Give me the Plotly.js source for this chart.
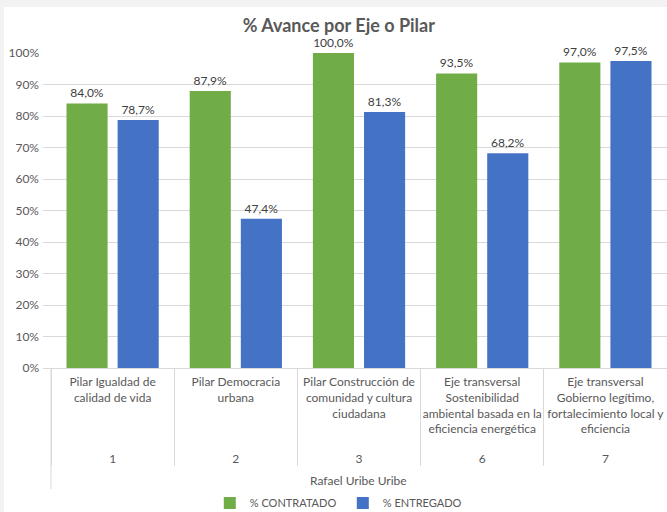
<!DOCTYPE html>
<html>
<head>
<meta charset="utf-8">
<script src="https://cdn.plot.ly/plotly-3.0.1.min.js"></script>
<style>
  html, body { margin: 0; padding: 0; background: #f2f2f2; width: 667px; height: 512px; overflow: hidden; }
  #chart { position: absolute; left: 4px; top: 7px; width: 663px; height: 505px; background: #ffffff; }
</style>
</head>
<body>
<div id="chart"></div>
<script>
// ---- data ----
var pilarNums = ["1", "2", "3", "6", "7"];
var pilarNames = [
  "Pilar Igualdad de<br>calidad de vida",
  "Pilar Democracia<br>urbana",
  "Pilar Construcción de<br>comunidad y cultura<br>ciudadana",
  "Eje transversal<br>Sostenibilidad<br>ambiental basada en la<br>eficiencia energética",
  "Eje transversal<br>Gobierno legítimo,<br>fortalecimiento local y<br>eficiencia"
];
var localidad = "Rafael Uribe Uribe";
var contratado = [84.0, 87.9, 100.0, 93.5, 97.0];
var entregado = [78.7, 47.4, 81.3, 68.2, 97.5];
var seriesNames = ["% CONTRATADO", "% ENTREGADO"];
var chartTitle = "% Avance por Eje o Pilar";

function fmt(v) { return v.toFixed(1).replace(".", ",") + "%"; }
// extra blank line gives room between the two label levels
var innerLabels = pilarNames.map(function (n) { return n + "<br>&nbsp;"; });

var FONT = "Lato, 'Open Sans', sans-serif";
var GRAY = "#595959";

var traces = [
  {
    type: "bar", name: seriesNames[0],
    x: [pilarNums, innerLabels], y: contratado,
    marker: { color: "#70AD47" },
    text: contratado.map(fmt), textposition: "outside",
    textfont: { family: FONT, size: 12, color: "#404040" },
    cliponaxis: false, hoverinfo: "none"
  },
  {
    type: "bar", name: seriesNames[1],
    x: [pilarNums, innerLabels], y: entregado,
    marker: { color: "#4472C4" },
    text: entregado.map(fmt), textposition: "outside",
    textfont: { family: FONT, size: 12, color: "#404040" },
    cliponaxis: false, hoverinfo: "none"
  }
];

var layout = {
  width: 663, height: 505,
  margin: { l: 39, r: 0, t: 46, b: 144, autoexpand: false },
  paper_bgcolor: "#ffffff", plot_bgcolor: "#ffffff",
  font: { family: FONT, size: 12, color: GRAY },
  title: { text: "<b>" + chartTitle + "</b>", font: { family: FONT, size: 18, color: GRAY },
           x: 0.505, xref: "container", y: 0.962, yref: "container", yanchor: "middle", xanchor: "center" },
  barmode: "group", bargap: 0.17, bargroupgap: 0.196,
  showlegend: true,
  legend: { orientation: "h", x: 0.511, xanchor: "center", xref: "container",
            y: 0.018, yanchor: "middle", yref: "container",
            entrywidth: 88, entrywidthmode: "pixels",
            font: { family: FONT, size: 11, color: GRAY } },
  xaxis: {
    type: "multicategory",
    range: [-0.5 - 8 / 123, 4.5],
    showgrid: false, showline: true, linecolor: "#d9d9d9", linewidth: 1,
    showdividers: true, dividercolor: "#d9d9d9", dividerwidth: 1,
    ticks: "", tickangle: 0, ticklabelstandoff: 3,
    tickfont: { family: FONT, size: 12, color: GRAY },
    fixedrange: true
  },
  yaxis: {
    range: [0, 100], dtick: 10, ticksuffix: "%",
    showgrid: true, gridcolor: "#d9d9d9", gridwidth: 1,
    zeroline: false, showline: false, ticks: "", ticklabelstandoff: 3,
    tickfont: { family: FONT, size: 12, color: GRAY },
    fixedrange: true
  },
  annotations: [
    { text: localidad, xref: "paper", yref: "paper", x: 0.506, y: -0.356,
      xanchor: "center", yanchor: "middle", showarrow: false,
      font: { family: FONT, size: 12, color: GRAY } }
  ],
  shapes: [
    { type: "line", xref: "paper", yref: "paper", x0: 8 / 624, x1: 8 / 624, y0: 0, y1: -0.384,
      line: { color: "#d9d9d9", width: 1 } }
  ]
};

Plotly.newPlot("chart", traces, layout, { displayModeBar: false, staticPlot: true });
</script>
</body>
</html>
